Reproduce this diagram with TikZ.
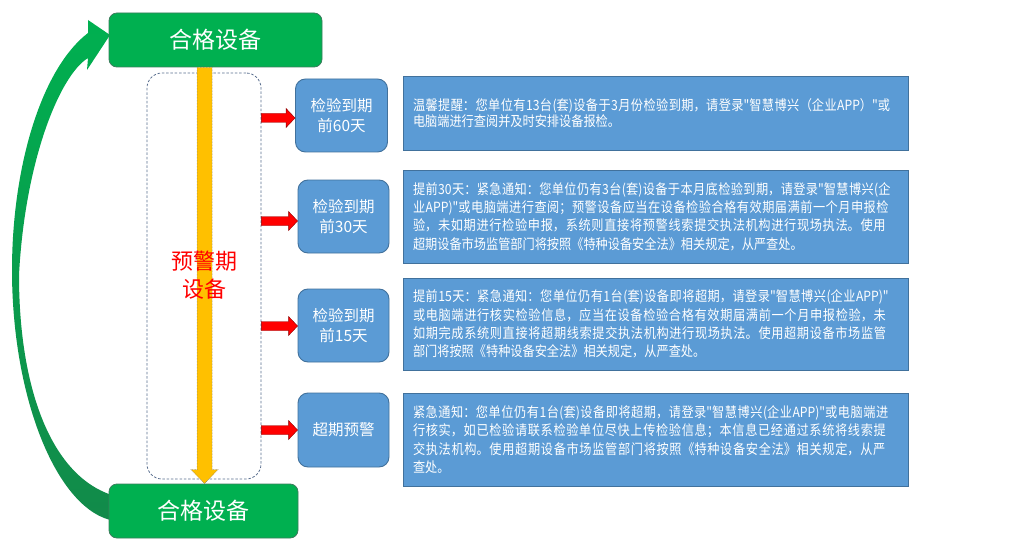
\documentclass[tikz,border=0pt]{standalone}
\usepackage{fontspec}
\setmainfont{Noto Sans CJK SC}[Ligatures=TeXOff]
\newfontfamily\msgfont{Noto Sans CJK SC}[FakeStretch=0.87, Ligatures=TeXOff]
\usetikzlibrary{calc}
\XeTeXlinebreaklocale "zh"
\XeTeXlinebreakskip=0pt plus 1.5pt minus 0.4pt
\definecolor{gfill}{HTML}{00B050}
\definecolor{gedge}{HTML}{3B7D5C}
\definecolor{gtop}{HTML}{00B050}
\definecolor{gbot}{HTML}{128A4A}
\definecolor{bfill}{HTML}{5B9BD5}
\definecolor{bedge}{HTML}{41719C}
\definecolor{ofill}{HTML}{FFC000}
\definecolor{dashc}{HTML}{5A6F8F}
\tikzset{
  greenbox/.style={draw=gedge, line width=0.8pt, fill=gfill, rounded corners=8pt, text=white,
    font=\fontsize{23}{28}\selectfont, minimum height=54pt, inner sep=0pt},
  bluebox/.style={draw=bedge, line width=0.9pt, fill=bfill, rounded corners=10pt, text=white,
    font=\fontsize{15.5}{20}\selectfont, align=center, minimum width=91pt, minimum height=73pt, inner sep=0pt},
  msgbox/.style={draw=bedge, line width=0.9pt, fill=bfill, text=white,
    font=\msgfont\fontsize{14}{18.3}\selectfont, text width=485pt, inner xsep=10pt, inner ysep=0pt},
  dashbox/.style={draw=dashc, line width=0.8pt, dash pattern=on 2.5pt off 1.8pt, rounded corners=15pt,
    minimum width=114pt, minimum height=406pt, inner sep=0pt},
  redarr/.style={fill=red, draw=red!55!black, line width=0.4pt},
  yarr/.style={fill=ofill, draw=black!55, line width=0.5pt, densely dotted},
}
\newcommand\blockarrow[2]{%
  \path[redarr] ($(#1)+(0,-4.5)$) -- ($(#2)+(-9,-4.5)$) -- ($(#2)+(-9,-9.5)$) -- (#2)
    -- ($(#2)+(-9,9.5)$) -- ($(#2)+(-9,4.5)$) -- ($(#1)+(0,4.5)$) -- cycle;}
\begin{document}
\begin{tikzpicture}[x=1pt,y=-1pt]
\useasboundingbox (0,0) rectangle (1036,559);
\fill[white] (0,0) rectangle (1036,559);

% green return arrow
\shade[top color=gtop, bottom color=gbot]
  (115,521) .. controls (58,512) and (12,400) .. (12,270)
  .. controls (12,170) and (40,70) .. (88,33)
  -- (88,20) -- (110,35) -- (87,70) -- (88,58)
  .. controls (60,75) and (25,160) .. (19,275)
  .. controls (19,390) and (52,478) .. (115,496) -- cycle;

% dashed frame
\node[dashbox] (frame) at (204,276) {};

% boxes
\node[greenbox, minimum width=213pt] (top) at (215.5,40) {合格设备};
\node[greenbox, minimum width=189pt] (bot) at (203.5,511) {合格设备};

% yellow timeline arrow
\coordinate (ys) at (top.south -| 204.5,0);
\coordinate (ye) at (bot.north -| 204.5,0);
\path[yarr] ($(ys)+(-7.5,0)$) -- ($(ys)+(7.5,0)$) -- ($(ye)+(7.5,-14)$) -- ($(ye)+(13.5,-14)$)
  -- (ye) -- ($(ye)+(-13.5,-14)$) -- ($(ye)+(-7.5,-14)$) -- cycle;

\node[text=red, font=\fontsize{22}{28}\selectfont, align=center, inner sep=0pt] (warn) at (204,275) {预警期\\设备};

\node[bluebox, minimum width=92pt] (b1) at (341.5,115.5) {检验到期\\前60天};
\node[bluebox] (b2) at (343.5,216.5) {检验到期\\前30天};
\node[bluebox] (b3) at (343.5,325.5) {检验到期\\前15天};
\node[bluebox, minimum height=74pt] (b4) at (343.5,430) {超期预警};

% red arrows
\coordinate (s1) at (frame.east |- 0,118);
\coordinate (s2) at (frame.east |- 0,221);
\coordinate (s3) at (frame.east |- 0,326);
\coordinate (s4) at (frame.east |- 0,430);
\coordinate (e1) at (b1.west |- s1);
\coordinate (e2) at (b2.west |- s2);
\coordinate (e3) at (b3.west |- s3);
\coordinate (e4) at (b4.west |- s4);
\blockarrow{s1}{e1}
\blockarrow{s2}{e2}
\blockarrow{s3}{e3}
\blockarrow{s4}{e4}

% message boxes
\node[msgbox, minimum height=74pt, font=\msgfont\fontsize{14}{16}\selectfont] (t1) at (655.5,113) {温馨提醒：您单位有13台(套)设备于3月份检验到期，请登录"智慧博兴（企业APP）"或\linebreak 电脑端进行查阅并及时安排设备报检。};
\node[msgbox, minimum height=93pt] (t2) at (655.5,216.5) {提前30天：紧急通知：您单位仍有3台(套)设备于本月底检验到期，请登录"智慧博兴(企\linebreak 业APP)"或电脑端进行查阅；预警设备应当在设备检验合格有效期届满前一个月申报检\linebreak 验，未如期进行检验申报，系统则直接将预警线索提交执法机构进行现场执法。使用\linebreak 超期设备市场监管部门将按照《特种设备安全法》相关规定，从严查处。};
\node[msgbox, minimum height=92pt] (t3) at (655.5,324) {提前15天：紧急通知：您单位仍有1台(套)设备即将超期，请登录"智慧博兴(企业APP)"\linebreak 或电脑端进行核实检验信息，应当在设备检验合格有效期届满前一个月申报检验，未\linebreak 如期完成系统则直接将超期线索提交执法机构进行现场执法。使用超期设备市场监管\linebreak 部门将按照《特种设备安全法》相关规定，从严查处。};
\node[msgbox, minimum height=93pt] (t4) at (655.5,439.5) {紧急通知：您单位仍有1台(套)设备即将超期，请登录"智慧博兴(企业APP)"或电脑端进\linebreak 行核实，如已检验请联系检验单位尽快上传检验信息；本信息已经通过系统将线索提\linebreak 交执法机构。使用超期设备市场监管部门将按照《特种设备安全法》相关规定，从严\linebreak 查处。};
\end{tikzpicture}
\end{document}
